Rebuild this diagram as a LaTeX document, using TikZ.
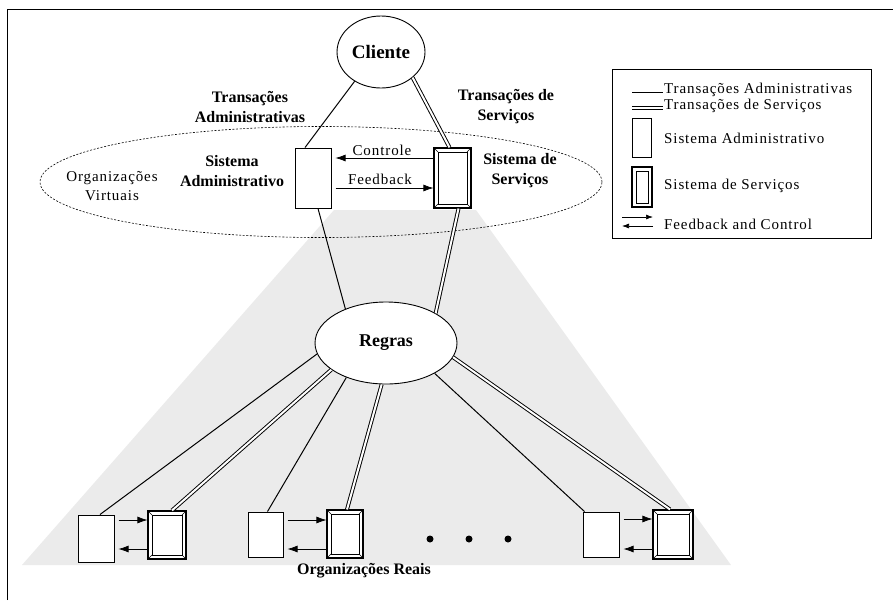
\documentclass[tikz,border=0pt]{standalone}
\usepackage{fontspec}
\setmainfont{Liberation Serif}
\newfontfamily\spaced{Liberation Serif}[LetterSpace=6]
\usetikzlibrary{arrows.meta,shapes.geometric}
\begin{document}
\begin{tikzpicture}[x=1pt,y=-1pt,
  bl/.style={font=\fontsize{16}{20}\selectfont\bfseries, align=center, inner sep=0},
  sp/.style={font=\fontsize{15}{19}\selectfont\spaced, align=center, inner sep=0},
  lg/.style={font=\fontsize{15}{17}\selectfont\spaced, inner sep=0, anchor=west},
  admbox/.style={draw, fill=white, line width=1pt, inner sep=0},
  servbox/.style={draw, fill=white, line width=1.1pt, inner sep=0, path picture={
    \draw[line width=0.8pt] ([shift={(4pt,4pt)}]path picture bounding box.south west) rectangle ([shift={(-4pt,-4pt)}]path picture bounding box.north east);
    \draw[line width=0.6pt] (path picture bounding box.south west) -- ([shift={(4pt,4pt)}]path picture bounding box.south west)
      (path picture bounding box.north east) -- ([shift={(-4pt,-4pt)}]path picture bounding box.north east)
      (path picture bounding box.north west) -- ([shift={(4pt,-4pt)}]path picture bounding box.north west)
      (path picture bounding box.south east) -- ([shift={(-4pt,4pt)}]path picture bounding box.south east);}},
  legserv/.style={draw, fill=white, line width=1.2pt, inner sep=0, path picture={
    \draw[line width=1pt] ([shift={(4pt,4pt)}]path picture bounding box.south west) rectangle ([shift={(-4pt,-4pt)}]path picture bounding box.north east);}},
  sline/.style={line width=1pt},
  dline/.style={double, double distance=2pt, line width=0.95pt},
  fb/.style={line width=0.7pt, -{Latex[length=10pt,width=7pt]}},
  oval/.style={ellipse, draw, fill=white, line width=0.9pt, inner sep=0}
]
\useasboundingbox (0,0) rectangle (893,600);
% frame
\draw[line width=1pt] (7,600) -- (7,9) -- (893,9);
% shaded background
\fill[black!8] (334,210) -- (476,210) -- (731,565) -- (22,565) -- cycle;
% virtual organisations ellipse
\node[ellipse, draw, line width=0.6pt, dash pattern=on 2pt off 1.6pt, minimum width=562pt, minimum height=111pt, inner sep=0] (virt) at (321,182) {};
% main nodes
\node[oval, minimum width=88pt, minimum height=72pt, font=\fontsize{19}{22}\selectfont\bfseries] (cli) at (381,52) {Cliente};
\node[oval, minimum width=142pt, minimum height=82pt, font=\fontsize{18}{22}\selectfont\bfseries] (reg) at (386,343) {Regras};
\node[admbox, minimum width=36pt, minimum height=60pt] (adm) at (313,178) {};
\node[servbox, minimum width=37pt, minimum height=60pt] (srv) at (452.5,178) {};
% bottom organisations
\node[admbox, minimum width=36pt, minimum height=47pt] (a1) at (96,538.5) {};
\node[servbox, minimum width=38pt, minimum height=48pt] (s1) at (167,535) {};
\node[admbox, minimum width=35pt, minimum height=45pt] (a2) at (265.5,534.5) {};
\node[servbox, minimum width=36pt, minimum height=48pt] (s2) at (345,534) {};
\node[admbox, minimum width=36pt, minimum height=45pt] (a3) at (601,534.5) {};
\node[servbox, minimum width=40pt, minimum height=49pt] (s3) at (673,534.5) {};
% connectors top
\draw[sline] (cli.228) -- ([xshift=-8pt]adm.north);
\draw[dline] (cli.321) -- ([xshift=-3pt]srv.north);
\draw[sline] ([xshift=5pt]adm.south) -- (reg.140);
\draw[dline] ([xshift=6pt]srv.south) -- (reg.31);
% connectors bottom
\draw[sline] (reg.189.6) -- ([xshift=4pt]a1.north);
\draw[dline] (reg.206.6) -- ([xshift=5pt]s1.north);
\draw[sline] (reg.221.9) -- ([xshift=2pt]a2.north);
\draw[dline] (reg.264.4) -- ([xshift=2pt]s2.north);
\draw[sline] (reg.328.7) -- ([xshift=2pt]a3.north west);
\draw[dline] (reg.348.5) -- ([xshift=-3pt]s3.north);
% feedback / control arrows
\draw[fb, shorten >=4pt] ([yshift=20pt]srv.west) -- ([yshift=20pt]adm.east);
\draw[fb, shorten <=4pt] ([yshift=-10pt]adm.east) -- ([yshift=-10pt]srv.west);
\draw[fb, shorten <=4pt] ([yshift=18.5pt]a1.east) -- ([yshift=15pt]s1.west);
\draw[fb, shorten >=4pt] ([yshift=-14pt]s1.west) -- ([yshift=-10.5pt]a1.east);
\draw[fb, shorten <=4pt] ([yshift=14.5pt]a2.east) -- ([yshift=14pt]s2.west);
\draw[fb, shorten >=4pt] ([yshift=-15pt]s2.west) -- ([yshift=-14.5pt]a2.east);
\draw[fb, shorten <=4pt] ([yshift=15.5pt]a3.east) -- ([yshift=15.5pt]s3.west);
\draw[fb, shorten >=4pt] ([yshift=-14.5pt]s3.west) -- ([yshift=-14.5pt]a3.east);
% dots
\fill (430,539) circle (3.5pt) (469,539) circle (3.5pt) (508,539) circle (3.5pt);
% labels
\node[bl] (tadm) at (250,107) {Transações\\Administrativas};
\node[bl] (tsrv) at (506,107) {Transações de\\Serviços};
\node[bl] (sadm) at (232,171) {Sistema\\Administrativo};
\node[bl] (ssrv) at (520,171) {Sistema de\\Serviços};
\node[sp] (ovirt) at (112,186) {Organizações\\Virtuais};
\node[sp] (ctl) at (382,150) {Controle};
\node[sp] (fbk) at (380,179) {Feedback};
\node[bl] (oreal) at (364,571) {Organizações Reais};
% legend
\node[draw, line width=0.8pt, minimum width=259pt, minimum height=169pt, inner sep=0] (leg) at (741.5,153.5) {};
\coordinate (l1a) at (632,92); \coordinate (l1b) at (663,92);
\draw[sline] (l1a) -- (l1b);
\node[lg] (lt1) at (664,90) {Transações Administrativas};
\coordinate (l2a) at (632,108); \coordinate (l2b) at (663,108);
\draw[dline] (l2a) -- (l2b);
\node[lg] (lt2) at (664,106) {Transações de Serviços};
\node[admbox, minimum width=19pt, minimum height=39pt] (ladm) at (641.5,137.5) {};
\node[lg] (lt3) at (664,138) {Sistema Administrativo};
\node[legserv, minimum width=20pt, minimum height=40pt] (lsrv) at (642,187) {};
\node[lg] (lt4) at (664,186) {Sistema de Serviços};
\coordinate (l5a) at (622,217); \coordinate (l5b) at (653,217);
\coordinate (l6a) at (653,226); \coordinate (l6b) at (622,226);
\draw[fb, -{Latex[length=7pt,width=5pt]}] (l5a) -- (l5b);
\draw[fb, -{Latex[length=7pt,width=5pt]}] (l6a) -- (l6b);
\node[lg] (lt5) at (664,224) {Feedback and Control};
\end{tikzpicture}
\end{document}
